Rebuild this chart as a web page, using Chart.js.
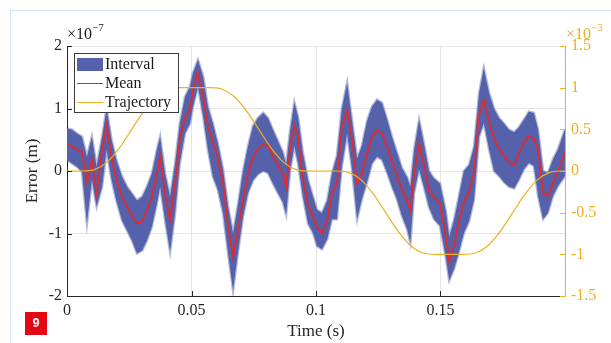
<!DOCTYPE html>
<html><head><meta charset="utf-8">
<script src="https://cdn.jsdelivr.net/npm/chart.js@4/dist/chart.umd.min.js"></script>
<style>
html,body{margin:0;padding:0;background:#fff;}
#wrap{position:relative;width:611px;height:343px;overflow:hidden;font-family:"Liberation Serif",serif;}
#c{position:absolute;left:0;top:0;}
.frameT{position:absolute;left:10px;top:10px;width:601px;height:1px;background:#d5e5f5;}
.frameL{position:absolute;left:10px;top:10px;width:1px;height:333px;background:#d5e5f5;}
#legend{position:absolute;left:74px;top:53px;width:103px;height:58px;border:1px solid #3a3a3a;background:#fff;font-size:16px;color:#1a1a1a;}
.row{position:absolute;left:0;height:19px;line-height:19px;}
.sw{position:absolute;left:2px;width:26px;}
.lbl{position:absolute;left:30px;white-space:nowrap;}
.mult{position:absolute;font-size:16px;white-space:nowrap;}
.mult sup{font-size:11px;position:relative;top:-2px;}
#badge{position:absolute;left:25px;top:312px;width:22px;height:23px;background:#e30613;color:#fff;font:bold 12px "Liberation Sans",sans-serif;text-align:center;line-height:23px;}
</style></head>
<body>
<div id="wrap">
<div class="frameT"></div><div class="frameL"></div>
<canvas id="c" width="611" height="343"></canvas>
<div id="legend">
 <div class="row" style="top:0px"><div class="sw" style="top:4px;height:13px;background:#5561aa"></div><div class="lbl">Interval</div></div>
 <div class="row" style="top:19px"><div class="sw" style="top:10px;height:1px;background:#e0262b"></div><div class="lbl">Mean</div></div>
 <div class="row" style="top:38px"><div class="sw" style="top:10px;height:1px;background:#edb120"></div><div class="lbl">Trajectory</div></div>
</div>
<div class="mult" style="left:67px;top:23px;color:#1a1a1a">×10<sup>−7</sup></div>
<div class="mult" style="left:566px;top:23px;color:#edb120">×10<sup>−3</sup></div>
<div id="badge">9</div>
</div>
<script>
// ---- data (error in 1e-7 m, trajectory in 1e-3 m) ----
const timeS = [0,0.002,0.004,0.006,0.008,0.010,0.0119,0.0141,0.0159,0.0179,0.0198,0.0221,0.0241,0.0261,0.0281,0.0302,0.0321,0.0341,0.0361,0.0374,0.0394,0.0414,0.0434,0.0453,0.0474,0.0494,0.0506,0.0526,0.0547,0.0566,0.0586,0.0606,0.0627,0.0647,0.0667,0.0686,0.0707,0.0727,0.0747,0.0767,0.0788,0.0807,0.0827,0.0847,0.0867,0.0880,0.0896,0.0913,0.0928,0.0947,0.0968,0.0988,0.1004,0.1024,0.1045,0.1064,0.1084,0.1104,0.1125,0.1145,0.1165,0.1184,0.1205,0.1225,0.1245,0.1265,0.1286,0.1305,0.1325,0.1345,0.1366,0.1379,0.1394,0.1414,0.1433,0.1454,0.1474,0.1498,0.1522,0.1535,0.1554,0.1574,0.1594,0.1615,0.1635,0.1655,0.1674,0.1695,0.1715,0.1735,0.1755,0.1775,0.1796,0.1815,0.1835,0.1855,0.1875,0.1892,0.1912,0.1931,0.1952,0.1972,0.2];
const meanErr = [0.44,0.39,0.34,0.31,-0.18,0.18,-0.36,0.34,0.74,0.23,-0.14,-0.41,-0.57,-0.71,-0.84,-0.81,-0.63,-0.41,-0.04,0.23,-0.36,-0.79,-0.20,0.50,0.87,0.98,1.30,1.57,1.19,0.70,0.48,0.20,-0.20,-0.89,-1.37,-0.95,-0.45,-0.05,0.22,0.36,0.42,0.40,0.24,0.10,-0.05,-0.25,0.35,0.72,0.55,-0.10,-0.55,-0.73,-0.91,-0.99,-0.79,-0.35,-0.20,0.70,0.98,0.50,-0.20,-0.04,0.28,0.55,0.66,0.60,0.39,0.15,-0.08,-0.30,-0.48,-0.62,-0.04,0.44,0.10,-0.30,-0.42,-0.52,-1.05,-1.45,-1.20,-0.80,-0.50,-0.33,0.00,0.90,1.14,0.80,0.52,0.36,0.25,0.13,0.10,0.28,0.46,0.55,0.52,0.34,-0.35,-0.40,-0.20,0.00,0.30];
const upperErr = [0.68,0.66,0.60,0.55,0.23,0.55,0.07,0.55,1.00,0.50,0.18,-0.09,-0.25,-0.36,-0.47,-0.41,-0.25,-0.04,0.34,0.55,-0.04,-0.41,0.12,0.76,1.19,1.35,1.57,1.78,1.51,1.03,0.76,0.44,0.02,-0.57,-1.00,-0.55,0.00,0.40,0.72,0.85,0.93,0.85,0.66,0.48,0.30,0.10,0.65,1.10,0.87,0.30,-0.14,-0.41,-0.62,-0.67,-0.47,-0.04,0.25,1.00,1.41,0.80,0.20,0.40,0.80,1.03,1.14,1.09,0.82,0.55,0.30,0.05,-0.10,-0.25,0.34,0.82,0.45,0.00,-0.12,-0.20,-0.65,-1.05,-0.79,-0.40,0.00,0.10,0.40,1.25,1.65,1.25,1.00,0.85,0.76,0.66,0.62,0.70,0.82,0.95,0.93,0.66,0.00,-0.03,0.19,0.35,0.67];
const lowerErr = [0.18,0.12,0.07,-0.01,-0.84,-0.14,-0.57,-0.25,0.34,-0.14,-0.47,-0.79,-0.95,-1.11,-1.32,-1.27,-1.11,-0.89,-0.52,-0.25,-0.79,-1.29,-0.68,0.12,0.60,0.76,1.03,1.35,0.87,0.34,-0.09,-0.30,-0.68,-1.32,-1.91,-1.32,-0.73,-0.35,-0.15,-0.05,0.00,-0.03,-0.20,-0.35,-0.50,-0.70,0.00,0.40,0.12,-0.40,-0.84,-0.99,-1.20,-1.25,-1.09,-0.77,-0.77,0.08,0.60,0.02,-0.77,-0.45,-0.18,0.12,0.23,0.18,-0.03,-0.25,-0.45,-0.72,-0.93,-1.15,-0.35,0.03,-0.25,-0.58,-0.77,-0.88,-1.40,-1.75,-1.57,-1.30,-0.99,-0.80,-0.45,0.55,0.77,0.35,0.00,-0.08,-0.18,-0.25,-0.28,-0.14,0.03,0.13,0.08,-0.40,-0.77,-0.67,-0.40,-0.24,-0.08];
const trajTime = [0,0.006,0.011,0.016,0.021,0.026,0.031,0.036,0.041,0.046,0.057,0.062,0.067,0.072,0.077,0.082,0.087,0.092,0.097,0.108,0.113,0.118,0.123,0.128,0.133,0.138,0.143,0.148,0.159,0.164,0.169,0.174,0.179,0.184,0.189,0.194,0.199,0.2];
const trajPos = [0,0,0.016,0.1035,0.2753,0.5,0.7247,0.8965,0.984,1,1,0.984,0.8965,0.7247,0.5,0.2753,0.1035,0.016,0,0,-0.016,-0.1035,-0.2753,-0.5,-0.7247,-0.8965,-0.984,-1,-1,-0.984,-0.8965,-0.7247,-0.5,-0.2753,-0.1035,-0.016,0,0];
const xTicks = [0,0.05,0.1,0.15];
const xTickLabels = ['0','0.05','0.1','0.15'];
const yLeftTicks = [-2,-1,0,1,2];
const yLeftLabels = ['-2','-1','0','1','2'];
const yRightTicks = [-1.5,-1,-0.5,0,0.5,1,1.5];
const yRightLabels = ['-1.5','-1','-0.5','0','0.5','1','1.5'];

const pts = (xs, ys) => xs.map((x, i) => ({x, y: ys[i]}));
const ORANGE = '#edb120', DARK = '#262626', GRID = '#e5e5e5';
const BAND = '#5561aa', BAND_EDGE = 'rgba(85,97,170,0.45)';

const inwardTicks = {
  id: 'inwardTicks',
  afterDraw(chart) {
    const ctx = chart.ctx, a = chart.chartArea;
    const sx = chart.scales.x, yl = chart.scales.y, yr = chart.scales.y2;
    ctx.save(); ctx.lineWidth = 1;
    ctx.strokeStyle = DARK;
    ctx.beginPath();
    yLeftTicks.forEach(v => { const y = Math.round(yl.getPixelForValue(v)) + 0.5; ctx.moveTo(a.left, y); ctx.lineTo(a.left + 5, y); });
    xTicks.forEach(v => { const x = Math.round(sx.getPixelForValue(v)) + 0.5; ctx.moveTo(x, a.bottom); ctx.lineTo(x, a.bottom - 5); });
    ctx.stroke();
    ctx.strokeStyle = ORANGE;
    ctx.beginPath();
    yRightTicks.forEach(v => { const y = Math.round(yr.getPixelForValue(v)) + 0.5; ctx.moveTo(a.right, y); ctx.lineTo(a.right - 5, y); });
    ctx.stroke();
    ctx.restore();
  }
};

new Chart(document.getElementById('c'), {
  type: 'line',
  data: {
    datasets: [
      {label: 'Trajectory', data: pts(trajTime, trajPos), yAxisID: 'y2', borderColor: ORANGE, borderWidth: 1.2, pointRadius: 0, cubicInterpolationMode: 'monotone', fill: false, order: 0},
      {label: 'Mean', data: pts(timeS, meanErr), yAxisID: 'y', borderColor: '#e32a2c', borderWidth: 1.8, pointRadius: 0, tension: 0, fill: false, order: 1},
      {label: 'Upper', data: pts(timeS, upperErr), yAxisID: 'y', borderWidth: 2.5, borderColor: BAND_EDGE, backgroundColor: BAND, pointRadius: 0, tension: 0, fill: '+1', order: 2},
      {label: 'Lower', data: pts(timeS, lowerErr), yAxisID: 'y', borderWidth: 2.5, borderColor: BAND_EDGE, pointRadius: 0, tension: 0, fill: false, order: 3}
    ]
  },
  options: {
    responsive: false, animation: false,
    layout: {padding: {top: 46, left: 0, right: 0, bottom: 0}},
    plugins: {legend: {display: false}, tooltip: {enabled: false}},
    scales: {
      x: {
        type: 'linear', min: 0, max: 0.2,
        afterBuildTicks: s => { s.ticks = xTicks.map(v => ({value: v})); },
        afterFit: s => { s.height = 47; },
        ticks: {callback: (v, i) => xTickLabels[i], color: DARK, padding: 5, font: {family: 'Liberation Serif', size: 16}, maxRotation: 0},
        grid: {color: GRID, drawTicks: false},
        border: {display: true, color: DARK, width: 1},
        title: {display: true, text: 'Time (s)', color: DARK, font: {family: 'Liberation Serif', size: 17}, padding: {top: 2, bottom: 1}}
      },
      y: {
        position: 'left', min: -2, max: 2,
        afterBuildTicks: s => { s.ticks = yLeftTicks.map(v => ({value: v})); },
        afterFit: s => { s.width = 67; },
        ticks: {callback: (v, i) => yLeftLabels[i], color: DARK, padding: 5, font: {family: 'Liberation Serif', size: 16}},
        grid: {color: GRID, drawTicks: false},
        border: {display: true, color: DARK, width: 1},
        title: {display: true, text: 'Error (m)', color: DARK, font: {family: 'Liberation Serif', size: 17}, padding: {top: 22, bottom: 0}}
      },
      y2: {
        position: 'right', min: -1.5, max: 1.5,
        afterBuildTicks: s => { s.ticks = yRightTicks.map(v => ({value: v})); },
        afterFit: s => { s.width = 46; },
        ticks: {callback: (v, i) => yRightLabels[i], color: ORANGE, padding: 6, font: {family: 'Liberation Serif', size: 16}},
        grid: {display: false, drawTicks: false},
        border: {display: true, color: ORANGE, width: 1}
      }
    }
  },
  plugins: [inwardTicks]
});
</script>
</body></html>
